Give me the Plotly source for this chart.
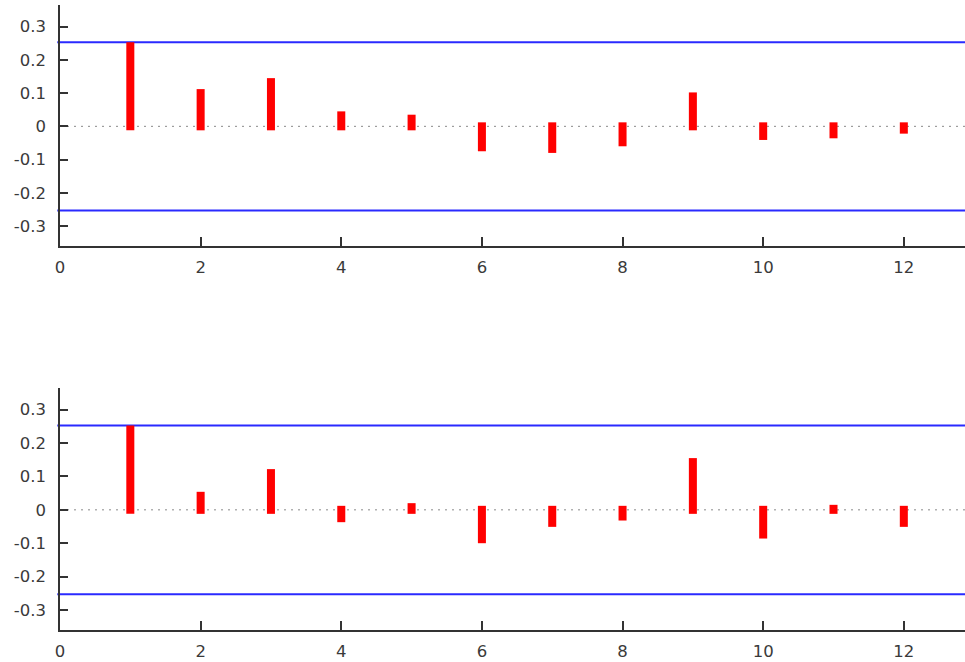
import plotly.graph_objects as go
from plotly.subplots import make_subplots

lags = [1, 2, 3, 4, 5, 6, 7, 8, 9, 10, 11, 12]
acf_values = [0.241, 0.100, 0.133, 0.033, 0.023, -0.063, -0.068, -0.048, 0.090, -0.029, -0.024, -0.010]
pacf_values = [0.241, 0.042, 0.110, -0.025, 0.008, -0.088, -0.039, -0.020, 0.143, -0.074, 0.003, -0.039]
conf_band = 0.253
y_tick_vals = [-0.3, -0.2, -0.1, 0, 0.1, 0.2, 0.3]
y_tick_text = ["-0.3", "-0.2", "-0.1", "0", "0.1", "0.2", "0.3"]
x_tick_vals = [0, 2, 4, 6, 8, 10, 12]
x_tick_text = ["0", "2", "4", "6", "8", "10", "12"]

CAP = 0.012  # square line-cap overhang of the thick impulses
BAR_W = 0.114

fig = make_subplots(rows=2, cols=1, vertical_spacing=0.0)

def add_impulses(values, row):
    sgn = [1 if v >= 0 else -1 for v in values]
    fig.add_trace(go.Bar(
        x=lags,
        y=[v + 2 * CAP * s for v, s in zip(values, sgn)],
        base=[-CAP * s for s in sgn],
        width=BAR_W,
        marker=dict(color="#ff0000", line=dict(width=0)),
        showlegend=False,
        hoverinfo="skip",
    ), row=row, col=1)

add_impulses(acf_values, 1)
add_impulses(pacf_values, 2)

axis_font = dict(family="DejaVu Sans", size=16.5, color="#3a3a3a")

for r, xa, ya in [(1, "x", "y"), (2, "x2", "y2")]:
    for yv, col, dash, w in [(conf_band, "#2a2aff", "solid", 2),
                             (-conf_band, "#2a2aff", "solid", 2),
                             (0, "#8a8a8a", "2px,5px", 1)]:
        fig.add_shape(type="line", xref=f"{xa} domain", yref=ya,
                      x0=-0.003 if dash == "solid" else 0, x1=1, y0=yv, y1=yv,
                      line=dict(color=col, width=w, dash=dash), layer="below")

common_x = dict(range=[0, 12.87], tickvals=x_tick_vals, ticktext=x_tick_text,
                showline=True, linecolor="#333333", linewidth=1.5,
                ticks="inside", ticklen=9, tickwidth=1.5, tickcolor="#333333",
                showgrid=False, zeroline=False, tickfont=axis_font,
                ticklabelstandoff=5, automargin=False)
common_y = dict(range=[-0.36, 0.365], tickvals=y_tick_vals, ticktext=y_tick_text,
                showline=True, linecolor="#333333", linewidth=1.5,
                ticks="inside", ticklen=8, tickwidth=1.5, tickcolor="#333333",
                showgrid=False, zeroline=False, tickfont=axis_font,
                ticklabelstandoff=9, automargin=False)

fig.update_xaxes(**common_x)
fig.update_yaxes(**common_y)

fig.update_layout(
    width=965, height=662,
    margin=dict(l=60, r=0, t=5, b=32),
    paper_bgcolor="white", plot_bgcolor="white",
    barmode="overlay",
    yaxis=dict(domain=[0.6144, 1.0]),
    yaxis2=dict(domain=[0.0, 0.3872]),
)

fig.write_html("out.html",
               config={"displayModeBar": False},
               post_script="document.body.style.margin='0px';document.body.style.overflow='hidden';")
